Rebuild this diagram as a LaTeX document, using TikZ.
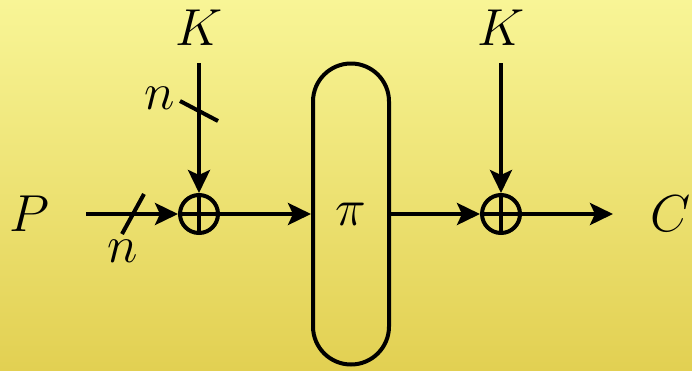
\RequirePackage{fix-cm}
\documentclass[tikz,border=0pt]{standalone}
\usetikzlibrary{arrows.meta}
\definecolor{bgtop}{RGB}{248,245,150}
\definecolor{bgbot}{RGB}{226,208,82}
\begin{document}
\begin{tikzpicture}[x=1pt,y=-1pt,
  wire/.style={line width=4pt},
  arr/.style={wire,-{Stealth[length=23pt,width=22pt,inset=5pt]}},
  lab/.style={font=\fontsize{52}{60}\selectfont, inner sep=0pt},
  xor/.style={circle, draw, line width=4pt, minimum size=38pt, inner sep=0pt,
    path picture={\draw[line width=4pt] (path picture bounding box.north) -- (path picture bounding box.south)
      (path picture bounding box.west) -- (path picture bounding box.east);}},
  perm/.style={draw, line width=4pt, rounded corners=38pt, minimum width=76pt, minimum height=301pt, inner sep=0pt},
  tick/.style={line width=4pt}]
\useasboundingbox (0,0) rectangle (692,370);
\shade[top color=bgtop, bottom color=bgbot] (0,0) rectangle (692,370);
\node[lab] (P) at (29,214) {$P$};
\node[lab] (C) at (671,214) {$C$};
\node[lab] (K1) at (199,28) {$K$};
\node[lab] (K2) at (501,28) {$K$};
\node[xor] (x1) at (199,214) {};
\node[xor] (x2) at (501,214) {};
\node[perm] (pi) at (351,214) {\fontsize{52}{60}\selectfont$\pi$};
\coordinate (pin) at (86,214);
\coordinate (k1in) at (199,63);
\coordinate (k2in) at (501,63);
\coordinate (cout) at (613,214);
\draw[arr] (pin) -- (x1);
\draw[arr] (k1in) -- (x1);
\draw[arr] (x1) -- (pi);
\draw[arr] (pi) -- (x2);
\draw[arr] (k2in) -- (x2);
\draw[arr] (x2) -- (cout);
\coordinate (s1a) at (122,234);
\coordinate (s1b) at (144,194);
\draw[tick] (s1a) -- (s1b);
\coordinate (s2a) at (180,101);
\coordinate (s2b) at (218,121);
\draw[tick] (s2a) -- (s2b);
\node[lab] (n1) at (123,251) {$n$};
\node[lab] (n2) at (160,98) {$n$};
\end{tikzpicture}
\end{document}
